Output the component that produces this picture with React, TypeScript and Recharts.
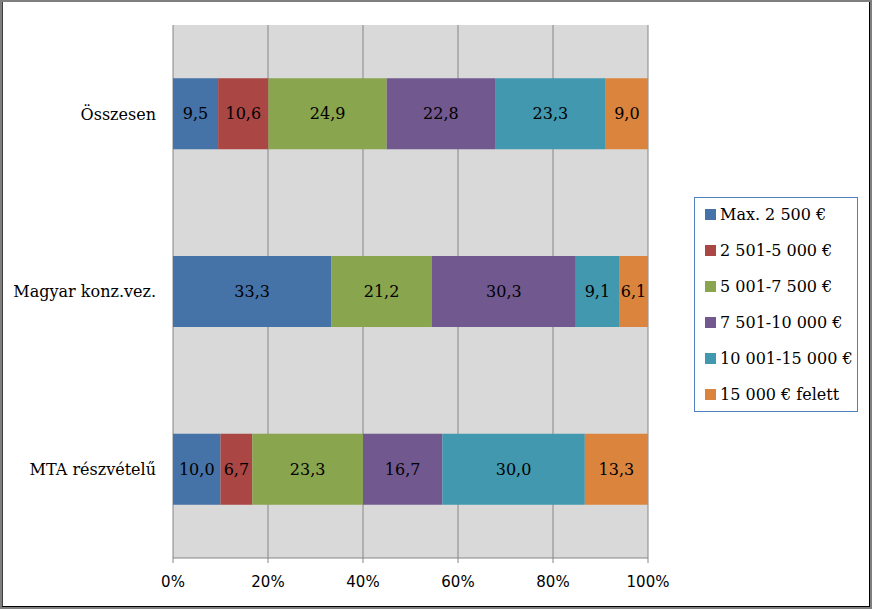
import React from 'react';
import { BarChart, Bar, XAxis, YAxis, CartesianGrid, LabelList } from 'recharts';

const categories = ['Összesen', 'Magyar konz.vez.', 'MTA részvételű'];
const seriesNames = ['Max. 2 500 €', '2 501-5 000 €', '5 001-7 500 €', '7 501-10 000 €', '10 001-15 000 €', '15 000 € felett'];
const seriesColors = ['#4572a7', '#aa4643', '#89a54e', '#71588f', '#4198af', '#db843d'];
const max2500 = [9.5, 33.3, 10.0];
const s2501_5000 = [10.6, null, 6.7];
const s5001_7500 = [24.9, 21.2, 23.3];
const s7501_10000 = [22.8, 30.3, 16.7];
const s10001_15000 = [23.3, 9.1, 30.0];
const felett15000 = [9.0, 6.1, 13.3];
const xTicks = [0, 20, 40, 60, 80, 100];
const boundaryTicks = [0, 1, 2, 3];

const seriesValues = [max2500, s2501_5000, s5001_7500, s7501_10000, s10001_15000, felett15000];
const keys = ['s0', 's1', 's2', 's3', 's4', 's5'];

const data = categories.map((name, i) => {
  const row: any = { name };
  seriesValues.forEach((vals, j) => {
    row[keys[j]] = vals[i];
  });
  return row;
});

const SERIF = '"DejaVu Serif", serif';
const SANS = '"DejaVu Sans", sans-serif';

const fmt = (v: any) => (v === null || v === undefined ? '' : Number(v).toFixed(1).replace('.', ','));

export default function App() {
  return (
    <div style={{ position: 'absolute', left: 0, top: 0, width: 872, height: 609, background: '#fff' }}>
      <BarChart
        width={872}
        height={609}
        data={data}
        layout="vertical"
        margin={{ top: 25, right: 224, bottom: 0, left: 0 }}
        barCategoryGap="30%"
      >
        <CartesianGrid
          yAxisId="cat"
          horizontal={false}
          vertical={true}
          fill="#d9d9d9"
          stroke="#868686"
          strokeWidth={1}
        />
        <XAxis
          type="number"
          domain={[0, 100]}
          ticks={xTicks}
          allowDataOverflow
          height={51}
          tickFormatter={(v: number) => `${v}%`}
          tick={{ fill: '#000', fontFamily: SANS, fontSize: 15 }}
          tickSize={5}
          tickMargin={13}
          axisLine={{ stroke: '#868686' }}
          tickLine={{ stroke: '#868686' }}
        />
        <YAxis
          yAxisId="bnd"
          type="number"
          domain={[0, 3]}
          ticks={boundaryTicks}
          tick={false}
          tickSize={6}
          width={0}
          axisLine={{ stroke: '#868686' }}
          tickLine={{ stroke: '#868686' }}
        />
        <YAxis
          yAxisId="cat"
          type="category"
          dataKey="name"
          width={173}
          axisLine={false}
          tickLine={false}
          tickSize={15}
          tickMargin={2}
          tick={{ fill: '#000', fontFamily: SERIF, fontSize: 16 }}
        />
        {keys.map((k, j) => (
          <Bar
            key={k}
            yAxisId="cat"
            dataKey={k}
            stackId="a"
            fill={seriesColors[j]}
            name={seriesNames[j]}
            isAnimationActive={false}
          >
            <LabelList
              dataKey={k}
              position="center"
              formatter={fmt}
              fill="#000"
              style={{ fontFamily: SERIF, fontSize: 16 }}
            />
          </Bar>
        ))}
      </BarChart>
      <div
        style={{
          position: 'absolute',
          left: 694,
          top: 197,
          width: 164,
          height: 215,
          boxSizing: 'border-box',
          border: '1px solid #4f81bd',
          background: '#fff',
        }}
      >
        {seriesNames.map((n, j) => (
          <div
            key={n}
            style={{
              position: 'absolute',
              left: 10,
              top: 6 + j * 36,
              height: 20,
              display: 'flex',
              alignItems: 'center',
              whiteSpace: 'nowrap',
              fontFamily: SERIF,
              fontSize: 16,
              color: '#000',
            }}
          >
            <span style={{ display: 'inline-block', width: 11, height: 11, background: seriesColors[j], marginRight: 4 }} />
            <span>{n}</span>
          </div>
        ))}
      </div>
      <div
        style={{
          position: 'absolute',
          left: 0,
          top: 0,
          width: 872,
          height: 609,
          boxSizing: 'border-box',
          border: '2px solid #7f7f7f',
          boxShadow: 'inset -1px -1px 0 #000, inset 1px 0 0 #404040',
          pointerEvents: 'none',
        }}
      />
    </div>
  );
}
